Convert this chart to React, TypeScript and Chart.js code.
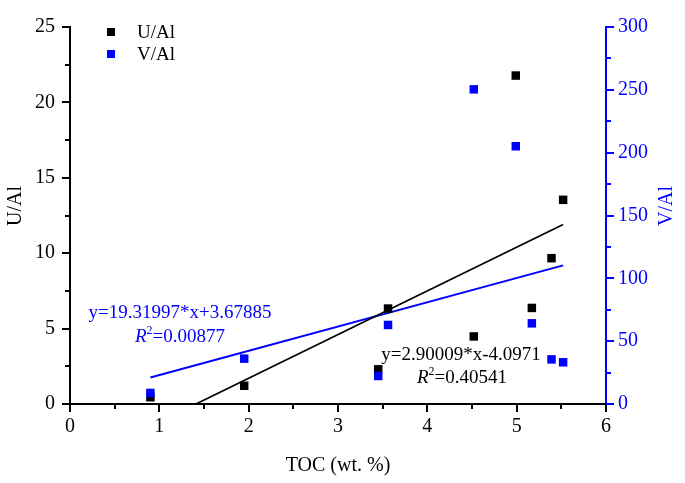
import React, { useEffect, useRef } from 'react';
import { Chart, registerables } from 'chart.js';

Chart.register(...registerables);

const TOC = [0.9, 1.95, 3.45, 3.56, 4.52, 4.99, 5.17, 5.39, 5.52];
const U_AL = [0.45, 1.21, 2.3, 6.33, 4.48, 21.78, 6.37, 9.67, 13.54];
const V_AL = [8.8, 36.1, 22.3, 62.9, 250.4, 205.1, 64.2, 35.5, 33.2];
const U_FIT_X = [1.41, 5.52];
const U_FIT_Y = [0, 11.91];
const V_FIT_X = [0.9, 5.52];
const V_FIT_Y = [21.07, 110.33];
const U_EQ = 'y=2.90009*x-4.0971';
const U_R2 = '0.40541';
const V_EQ = 'y=19.31997*x+3.67885';
const V_R2 = '0.00877';
const LEGEND = ['U/Al', 'V/Al'];
const X_TITLE = 'TOC (wt. %)';
const Y_TITLE = 'U/Al';
const Y2_TITLE = 'V/Al';

const BLUE = '#0000ff';
const FONT = "'Liberation Serif', 'Times New Roman', serif";

const pts = (xs: number[], ys: number[]) => xs.map((x, i) => ({ x, y: ys[i] }));

const decorPlugin = {
  id: 'decor',
  afterDraw(chart: any) {
    const ctx = chart.ctx as CanvasRenderingContext2D;
    const { x, y, y2 } = chart.scales;
    const area = chart.chartArea;
    ctx.save();
    ctx.lineWidth = 2;
    ctx.lineCap = 'butt';
    const line = (x1: number, y1: number, x2: number, y2_: number, c: string) => {
      ctx.strokeStyle = c;
      ctx.beginPath();
      ctx.moveTo(x1, y1);
      ctx.lineTo(x2, y2_);
      ctx.stroke();
    };
    for (let i = 0; i <= 12; i++) {
      const v = i * 0.5;
      const px = Math.round(x.getPixelForValue(v));
      line(px, area.bottom, px, area.bottom + (i % 2 === 0 ? 8 : 5), '#000');
    }
    for (let i = 0; i <= 10; i++) {
      const v = i * 2.5;
      const py = Math.round(y.getPixelForValue(v));
      line(area.left, py, area.left - (i % 2 === 0 ? 8 : 5), py, '#000');
    }
    for (let i = 0; i <= 12; i++) {
      const v = i * 25;
      const py = Math.round(y2.getPixelForValue(v));
      line(area.right, py, area.right + (i % 2 === 0 ? 8 : 5), py, BLUE);
    }

    // axis titles (both read bottom-to-top)
    ctx.font = `20px ${FONT}`;
    ctx.textAlign = 'center';
    ctx.textBaseline = 'middle';
    ctx.save();
    ctx.translate(16, 206);
    ctx.rotate(-Math.PI / 2);
    ctx.fillStyle = '#000';
    ctx.fillText(Y_TITLE, 0, 0);
    ctx.restore();
    ctx.save();
    ctx.translate(667, 206);
    ctx.rotate(-Math.PI / 2);
    ctx.fillStyle = BLUE;
    ctx.fillText(Y2_TITLE, 0, 0);
    ctx.restore();

    // legend
    ctx.font = `19px ${FONT}`;
    ctx.textBaseline = 'middle';
    ctx.textAlign = 'left';
    const rows = [
      { label: LEGEND[0], color: '#000', yy: 32 },
      { label: LEGEND[1], color: BLUE, yy: 54 },
    ];
    rows.forEach((r) => {
      ctx.fillStyle = r.color;
      ctx.fillRect(107, r.yy - 4, 8, 8);
      ctx.fillStyle = '#000';
      ctx.fillText(r.label, 137, r.yy + 1);
    });

    // equations
    const drawR2 = (cx: number, cy: number, val: string, color: string) => {
      ctx.fillStyle = color;
      ctx.font = `italic 19px ${FONT}`;
      const wR = ctx.measureText('R').width;
      ctx.font = `12px ${FONT}`;
      const w2 = ctx.measureText('2').width;
      ctx.font = `19px ${FONT}`;
      const rest = '=' + val;
      const wRest = ctx.measureText(rest).width;
      const total = wR + w2 + wRest;
      let sx = cx - total / 2;
      ctx.textAlign = 'left';
      ctx.font = `italic 19px ${FONT}`;
      ctx.fillText('R', sx, cy);
      sx += wR;
      ctx.font = `12px ${FONT}`;
      ctx.fillText('2', sx, cy - 6);
      sx += w2;
      ctx.font = `19px ${FONT}`;
      ctx.fillText(rest, sx, cy);
    };
    ctx.textAlign = 'center';
    ctx.fillStyle = BLUE;
    ctx.font = `19px ${FONT}`;
    ctx.fillText(V_EQ, 180, 313);
    drawR2(180, 337, V_R2, BLUE);
    ctx.textAlign = 'center';
    ctx.fillStyle = '#000';
    ctx.font = `19px ${FONT}`;
    ctx.fillText(U_EQ, 461, 355);
    drawR2(462, 378, U_R2, '#000');
    ctx.restore();
  },
};

export default function App() {
  const ref = useRef<HTMLCanvasElement>(null);
  useEffect(() => {
    if (!ref.current) return;
    const chart = new Chart(ref.current, {
      type: 'scatter',
      data: {
        datasets: [
          {
            label: 'V/Al',
            data: pts(TOC, V_AL),
            yAxisID: 'y2',
            pointStyle: 'rect',
            pointRadius: 6,
            pointHoverRadius: 6,
            backgroundColor: BLUE,
            borderColor: BLUE,
            borderWidth: 0,
            order: 0,
          },
          {
            label: 'U/Al',
            data: pts(TOC, U_AL),
            yAxisID: 'y',
            pointStyle: 'rect',
            pointRadius: 6,
            pointHoverRadius: 6,
            backgroundColor: '#000',
            borderColor: '#000',
            borderWidth: 0,
            order: 1,
          },
          {
            label: 'U fit',
            data: pts(U_FIT_X, U_FIT_Y),
            yAxisID: 'y',
            showLine: true,
            pointRadius: 0,
            borderColor: '#000',
            borderWidth: 1.7,
            order: 2,
          },
          {
            label: 'V fit',
            data: pts(V_FIT_X, V_FIT_Y),
            yAxisID: 'y2',
            showLine: true,
            pointRadius: 0,
            borderColor: BLUE,
            borderWidth: 2,
            order: 3,
          },
        ],
      },
      options: {
        animation: false,
        responsive: true,
        maintainAspectRatio: false,
        layout: { padding: { top: 13, left: 0, right: 0, bottom: 0 } },
        plugins: { legend: { display: false }, tooltip: { enabled: false } },
        scales: {
          x: {
            type: 'linear',
            min: 0,
            max: 6,
            afterFit: (s: any) => { s.height = 79; },
            ticks: { stepSize: 1, color: '#000', font: { family: FONT, size: 20 }, padding: 11 },
            grid: { display: false, drawTicks: false },
            border: { display: true, color: '#000', width: 2 },
            title: { display: true, text: X_TITLE, color: '#000', font: { family: FONT, size: 20 }, padding: { top: 0, bottom: 5 } },
          },
          y: {
            type: 'linear',
            position: 'left',
            min: 0,
            max: 25,
            afterFit: (s: any) => { s.width = 70; },
            ticks: { stepSize: 5, color: '#000', font: { family: FONT, size: 20 }, padding: 15 },
            grid: { display: false, drawTicks: false },
            border: { display: true, color: '#000', width: 2 },
            title: { display: false },
          },
          y2: {
            type: 'linear',
            position: 'right',
            min: 0,
            max: 300,
            afterFit: (s: any) => { s.width = 79; },
            ticks: { stepSize: 50, color: BLUE, font: { family: FONT, size: 20 }, padding: 12 },
            grid: { display: false, drawTicks: false },
            border: { display: true, color: BLUE, width: 2 },
            title: { display: false },
          },
        },
      },
      plugins: [decorPlugin],
    });
    return () => chart.destroy();
  }, []);
  return (
    <div style={{ position: 'fixed', left: 0, top: 0, width: 685, height: 483, background: '#fff' }}>
      <canvas ref={ref} />
    </div>
  );
}
